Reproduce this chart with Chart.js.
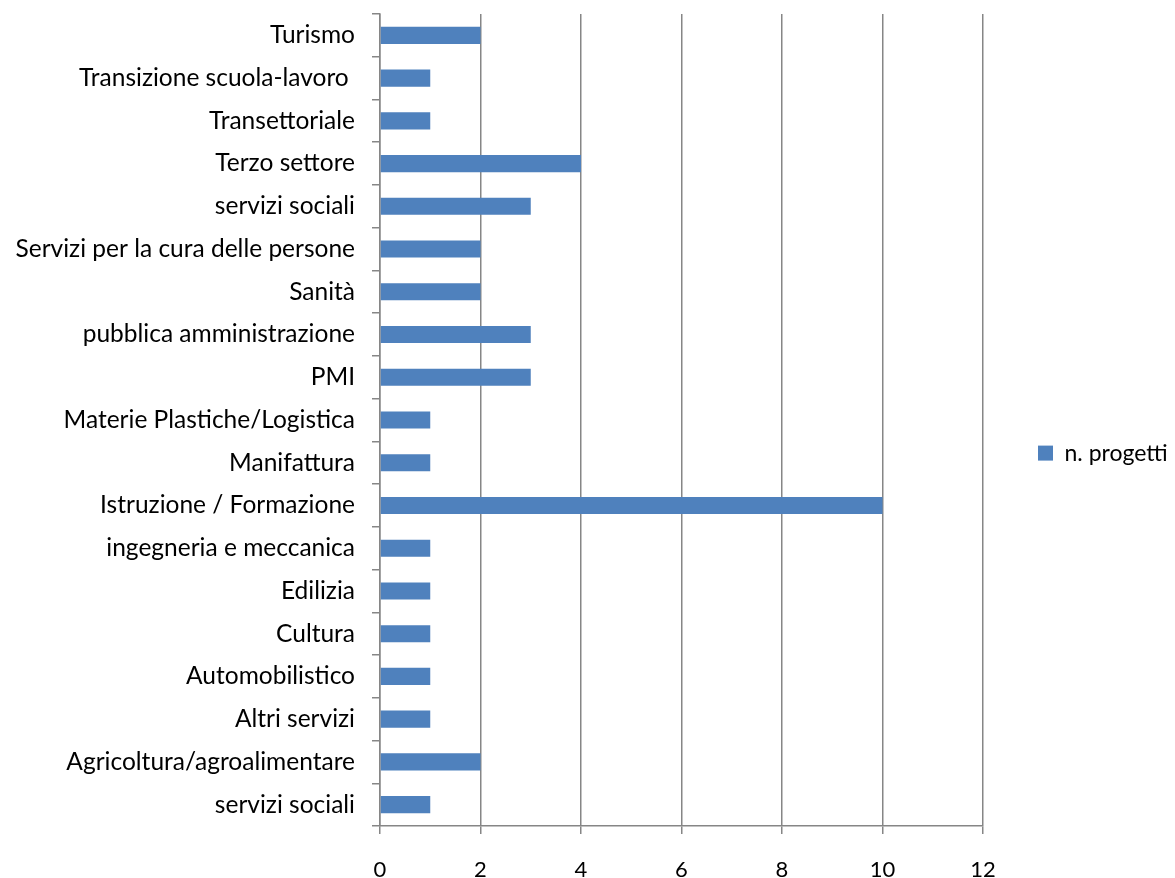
<!DOCTYPE html>
<html>
<head>
<meta charset="utf-8">
<script src="https://cdn.jsdelivr.net/npm/chart.js@4.4.0/dist/chart.umd.min.js"></script>
<style>
  body { margin: 0; background: #fff; }
  #wrap { width: 1175px; height: 878px; }
</style>
</head>
<body>
<div id="wrap"><canvas id="graficoBarre" width="1175" height="878"></canvas></div>
<script>
// settori, dall'alto verso il basso
const settori = [
    'Turismo',
    'Transizione scuola-lavoro ',
    'Transettoriale',
    'Terzo settore',
    'servizi sociali',
    'Servizi per la cura delle persone',
    'Sanità',
    'pubblica amministrazione',
    'PMI',
    'Materie Plastiche/Logistica',
    'Manifattura',
    'Istruzione / Formazione',
    'ingegneria e meccanica',
    'Edilizia',
    'Cultura',
    'Automobilistico',
    'Altri servizi',
    'Agricoltura/agroalimentare',
    'servizi sociali'
];
const nProgetti = [2, 1, 1, 4, 3, 2, 2, 3, 3, 1, 1, 10, 1, 1, 1, 1, 1, 2, 1];
const tickAsseX = [0, 2, 4, 6, 8, 10, 12];

const fontSettori = { family: 'Lato', size: 24.5 };
const fontNumeri = { family: 'Lato', size: 22 };
const fontLegenda = { family: 'Lato', size: 23 };
const grigio = '#868686';

// larghezza fissa della legenda a destra
const legendaFissa = {
    id: 'legendaFissa',
    beforeLayout(chart) {
        const leg = chart.legend;
        if (leg && !leg._fitPatched) {
            const fit = leg.fit;
            leg.fit = function () {
                fit.call(this);
                this.width = 192;
            };
            leg._fitPatched = true;
        }
    }
};

function disegna() {
    const ctx = document.getElementById('graficoBarre').getContext('2d');
    new Chart(ctx, {
        type: 'bar',
        data: {
            labels: settori,
            datasets: [{
                label: 'n. progetti',
                data: nProgetti,
                backgroundColor: '#4f81bd',
                borderWidth: 0,
                barPercentage: 0.4,
                categoryPercentage: 1
            }]
        },
        plugins: [legendaFissa],
        options: {
            indexAxis: 'y',
            responsive: false,
            animation: false,
            layout: {
                padding: { left: 0, top: 14, right: 0, bottom: 0 }
            },
            plugins: {
                tooltip: { enabled: false },
                legend: {
                    position: 'right',
                    // titolo vuoto: abbassa un po' la voce della legenda
                    title: {
                        display: true,
                        text: '',
                        font: { size: 1 },
                        padding: { top: 0, bottom: 13 }
                    },
                    labels: {
                        color: '#000',
                        font: fontLegenda,
                        boxWidth: 15,
                        boxHeight: 15,
                        padding: 55
                    }
                }
            },
            scales: {
                x: {
                    min: 0,
                    max: 12,
                    afterBuildTicks: (axis) => {
                        axis.ticks = tickAsseX.map(v => ({ value: v }));
                    },
                    afterFit: (axis) => { axis.height = 52; },
                    ticks: {
                        color: '#000',
                        font: fontNumeri,
                        padding: 23,
                        maxRotation: 0
                    },
                    grid: {
                        color: grigio,
                        lineWidth: 1.5,
                        tickLength: 8
                    },
                    border: { color: grigio, width: 1.5 }
                },
                y: {
                    afterFit: (axis) => {
                        axis.width = 380;
                        axis.paddingTop = 0;
                        axis.paddingBottom = 0;
                    },
                    ticks: {
                        color: '#000',
                        font: fontSettori,
                        padding: 17,
                        autoSkip: false
                    },
                    grid: {
                        color: grigio,
                        lineWidth: 1.5,
                        drawOnChartArea: false,
                        tickLength: 8,
                        offset: true
                    },
                    border: { color: grigio, width: 1.5 }
                }
            }
        }
    });
}

document.fonts.load('24.5px Lato').then(disegna, disegna);
</script>
</body>
</html>
